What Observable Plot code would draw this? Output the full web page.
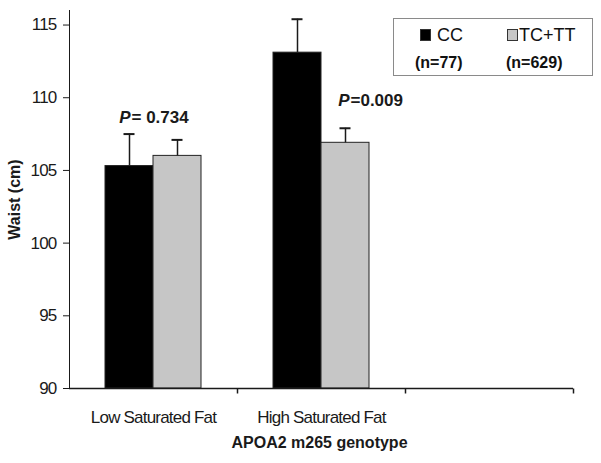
<!DOCTYPE html>
<html><head><meta charset="utf-8">
<script src="https://cdn.jsdelivr.net/npm/d3@7"></script>
<script src="https://cdn.jsdelivr.net/npm/@observablehq/plot@0.6"></script>
<style>
body{margin:0;background:#fff;}
#wrap{position:relative;width:601px;height:463px;overflow:hidden;}
#legend{position:absolute;left:393px;top:18px;width:198px;height:56px;border:1.5px solid #8a8a8a;background:#fff;font-family:"Liberation Sans",Arial,sans-serif;color:#111;}
#legend .sw{position:absolute;width:9px;height:10px;border:1px solid #333;}
#legend .nm{position:absolute;font-size:18px;line-height:18px;}
#legend .n{position:absolute;font-size:16px;font-weight:bold;line-height:16px;}
</style></head><body><div id="wrap"></div>
<script>
// ---- data ----
const categories = ["Low Saturated Fat", "High Saturated Fat"];
const genotypes = ["CC", "TC+TT"];
const sampleSizes = ["(n=77)", "(n=629)"];
const waistCC = [105.3, 113.1];
const waistTC = [106.0, 106.9];
const errCC = [2.2, 2.3];
const errTC = [1.1, 1.0];
const pValues = ["= 0.734", "=0.009"];
const yTicks = [90, 95, 100, 105, 110, 115];
const xTitle = "APOA2 m265 genotype";
const yTitle = "Waist (cm)";

const yMin = 90, yMax = 116;
const emptyCat = "\u2003";
const fxDomain = [...categories, emptyCat];
const rows = categories.flatMap((c, i) => [
  {cat: c, geno: genotypes[0], value: waistCC[i], err: errCC[i]},
  {cat: c, geno: genotypes[1], value: waistTC[i], err: errTC[i]}
]);
const tickSymbol = {draw(ctx) { ctx.moveTo(0, 0); ctx.lineTo(0, 5); }};
const ink = "#1a1a1a";
const sans = '"Liberation Sans", Arial, sans-serif';

const pMarks = [];
const pOffsets = [{geno: genotypes[0], dx: 1, dy: -17}, {geno: genotypes[1], dx: 4, dy: -28}];
categories.forEach((c, i) => {
  const r = rows.filter(d => d.cat === c && d.geno === pOffsets[i].geno);
  const top = d => d.value + d.err;
  pMarks.push(Plot.text(r, {fx: "cat", x: "geno", y: top, text: () => "P", textAnchor: "end", dx: pOffsets[i].dx, dy: pOffsets[i].dy, fontFamily: sans, fontSize: 17, fontWeight: "bold", fontStyle: "italic", fill: ink}));
  pMarks.push(Plot.text(r, {fx: "cat", x: "geno", y: top, text: () => pValues[i], textAnchor: "start", dx: pOffsets[i].dx + 1, dy: pOffsets[i].dy, fontFamily: sans, fontSize: 17, fontWeight: "bold", fill: ink}));
});

const chart = Plot.plot({
  width: 601, height: 463,
  marginLeft: 68, marginRight: 28, marginTop: 10, marginBottom: 75,
  style: {fontFamily: sans, fontSize: "17px", letterSpacing: "-0.8px", color: ink, background: "white"},
  fx: {domain: fxDomain, padding: 0, label: null, tickSize: 0, tickPadding: 22},
  x: {domain: genotypes, paddingInner: 0, paddingOuter: 0.75, axis: null},
  y: {domain: [yMin, yMax], ticks: yTicks, tickSize: 6, tickPadding: 7, line: true, label: null, tickFormat: d => String(d)},
  color: {domain: genotypes, range: ["#000000", "#c6c6c6"]},
  marks: [
    Plot.barY(rows, {fx: "cat", x: "geno", y1: () => yMin, y2: "value", fill: "geno", stroke: "#222", strokeWidth: 1}),
    Plot.ruleX(rows, {fx: "cat", x: "geno", y1: "value", y2: d => d.value + d.err, stroke: ink, strokeWidth: 1.5}),
    Plot.tickY(rows, {fx: "cat", x: "geno", y: d => d.value + d.err, insetLeft: 18.5, insetRight: 18.5, stroke: ink, strokeWidth: 2}),
    Plot.ruleY(fxDomain, {fx: d => d, y: () => yMin, stroke: ink, strokeWidth: 1.5}),
    Plot.dot(fxDomain, {fx: d => d, frameAnchor: "bottom-right", symbol: tickSymbol, stroke: ink, strokeWidth: 1.5, fill: "none"}),
    ...pMarks,
    Plot.text([yTitle], {fx: () => categories[0], frameAnchor: "left", textAnchor: "middle", rotate: -90, dx: -55, fontFamily: sans, fontSize: 16, fontWeight: "bold", fill: ink}),
    Plot.text([xTitle], {fx: () => categories[1], frameAnchor: "bottom", dy: 59, dx: -2, fontFamily: sans, fontSize: 16, fontWeight: "bold", fill: ink})
  ]
});
const wrap = document.getElementById("wrap");
wrap.appendChild(chart);
// marks' own text uses normal letter spacing
chart.querySelectorAll('g[aria-label="text"]').forEach(g => g.setAttribute("letter-spacing", "0"));

const legend = document.createElement("div");
legend.id = "legend";
const swatchColors = ["#000000", "#c6c6c6"];
const layout = [{sw: 26, nm: 43, n: 21}, {sw: 113, nm: 125, n: 112}];
genotypes.forEach((g, i) => {
  const sw = document.createElement("div");
  sw.className = "sw"; sw.style.left = layout[i].sw + "px"; sw.style.top = "10px"; sw.style.background = swatchColors[i];
  const nm = document.createElement("div");
  nm.className = "nm"; nm.style.left = layout[i].nm + "px"; nm.style.top = "7px"; nm.textContent = g;
  const n = document.createElement("div");
  n.className = "n"; n.style.left = layout[i].n + "px"; n.style.top = "36px"; n.textContent = sampleSizes[i];
  legend.append(sw, nm, n);
});
wrap.appendChild(legend);
</script></body></html>
